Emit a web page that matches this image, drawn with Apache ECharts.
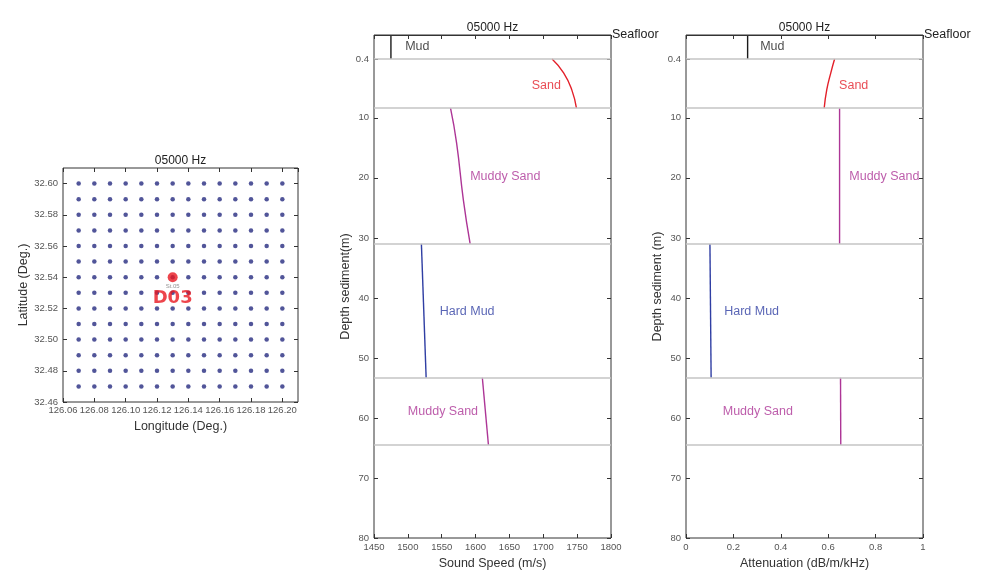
<!DOCTYPE html>
<html>
<head>
<meta charset="utf-8">
<title>05000 Hz</title>
<script src="https://cdn.jsdelivr.net/npm/echarts@6/dist/echarts.min.js"></script>
<style>
  html, body { margin: 0; padding: 0; background: #fff; }
  #main { width: 981px; height: 579px; }
</style>
</head>
<body>
<div id="main"></div>
<script>
// station grid (deg)
var gridLons = [126.07, 126.08, 126.09, 126.10, 126.11, 126.12, 126.13,
                126.14, 126.15, 126.16, 126.17, 126.18, 126.19, 126.20];
var gridLats = [32.47, 32.48, 32.49, 32.50, 32.51, 32.52, 32.53,
                32.54, 32.55, 32.56, 32.57, 32.58, 32.59, 32.60];
var station = [126.13, 32.54];
var stationName = 'D03';
var stationTag = 'St.05';

// depth axis (m), the top mud layer is stretched as in the figure
var seafloorDepth = -3.8;
var layerBottoms = [0.2, 8.4, 31.0, 53.3, 64.5];
var depthTickValues = [0.2, 10, 20, 30, 40, 50, 60, 70, 80];
var depthTickLabels = ['0.4', '10', '20', '30', '40', '50', '60', '70', '80'];

var layerNames = ['Mud', 'Sand', 'Muddy Sand', 'Hard Mud', 'Muddy Sand'];
var layerColors = ['#1a1a1a', '#e3202a', '#ad3596', '#2f3ea3', '#ad3596'];

var layerDepths = [
  [-3.8, 0.2],
  [0.2, 2.5, 5.3, 8.4],
  [8.4, 14.2, 23.7, 31.0],
  [31.0, 53.3],
  [53.3, 64.5]
];
var soundSpeed = [
  [1475, 1475],
  [1713, 1730, 1742, 1749],
  [1563, 1572, 1582, 1592],
  [1520, 1527],
  [1610, 1619]
];
var attenuation = [
  [0.26, 0.26],
  [0.627, 0.611, 0.594, 0.583],
  [0.648, 0.648, 0.648, 0.648],
  [0.101, 0.106],
  [0.652, 0.653]
];

// where the layer names sit (left edge, middle of text)
var labelAtSpeed = [[1496, -1.8], [1683, 4.7], [1592, 19.8], [1547, 42.2], [1500, 59]];
var labelAtAtten = [[0.313, -1.8], [0.646, 4.7], [0.689, 19.8], [0.161, 42.2], [0.155, 59]];

var FONT = 'Liberation Sans';
// negative length draws the tick into the plot box
var TICK = { show: true, inside: false, length: -4, lineStyle: { color: '#333' } };
var NOLINE = { show: false, onZero: false };

function plain(v) { return String(+v.toFixed(6)); }

function depthLabel(v) {
  for (var i = 0; i < depthTickValues.length; i++) {
    if (Math.abs(depthTickValues[i] - v) < 1e-6) return depthTickLabels[i];
  }
  return '';
}

function depthAxes(gridIndex, title, nameGap) {
  return [
    {
      type: 'value', gridIndex: gridIndex, position: 'left', inverse: true,
      min: seafloorDepth, max: 80,
      name: title, nameLocation: 'middle', nameGap: nameGap,
      nameTextStyle: { fontSize: 12.5, color: '#333', fontFamily: FONT },
      axisLine: NOLINE, splitLine: { show: false },
      axisTick: Object.assign({ customValues: depthTickValues }, TICK),
      axisLabel: { customValues: depthTickValues, formatter: depthLabel, margin: 5,
                   fontSize: 9.5, color: '#555', fontFamily: FONT }
    },
    {
      type: 'value', gridIndex: gridIndex, position: 'right', inverse: true,
      min: seafloorDepth, max: 80,
      axisLine: NOLINE, splitLine: { show: false },
      axisTick: Object.assign({ customValues: depthTickValues }, TICK),
      axisLabel: { show: false }
    }
  ];
}

function valueAxes(gridIndex, min, max, interval, name, title, fmt, nameGap, margin, showMax) {
  return [
    {
      type: 'value', gridIndex: gridIndex, position: 'bottom',
      min: min, max: max, interval: interval,
      name: name, nameLocation: 'middle', nameGap: nameGap,
      nameTextStyle: { fontSize: 12.5, color: '#333', fontFamily: FONT },
      axisLine: NOLINE, splitLine: { show: false },
      axisTick: TICK,
      axisLabel: { margin: margin, fontSize: 9.5, color: '#555', fontFamily: FONT,
                   formatter: fmt, showMaxLabel: showMax }
    },
    {
      type: 'value', gridIndex: gridIndex, position: 'top',
      min: min, max: max, interval: interval,
      name: title, nameLocation: 'middle', nameGap: 1,
      nameTextStyle: { fontSize: 12, color: '#222', fontFamily: FONT },
      axisLine: NOLINE, splitLine: { show: false },
      axisTick: TICK, axisLabel: { show: false }
    }
  ];
}

function profileSeries(values, xIdx, yIdx, labelAt) {
  var out = [];
  for (var i = 0; i < layerNames.length; i++) {
    var pts = layerDepths[i].map(function (d, j) { return [values[i][j], d]; });
    var s = {
      type: 'line', xAxisIndex: xIdx, yAxisIndex: yIdx,
      data: pts, showSymbol: false, smooth: 0.5, silent: true,
      lineStyle: { color: layerColors[i], width: 1.4 }
    };
    if (i === 0) {
      var lines = [{
        yAxis: seafloorDepth,
        lineStyle: { color: '#333', width: 1, type: 'solid' },
        label: { show: true, position: 'end', distance: 1, formatter: 'Seafloor',
                 fontSize: 12.5, color: '#222', fontFamily: FONT }
      }];
      layerBottoms.forEach(function (b) {
        lines.push({ yAxis: b, label: { show: false } });
      });
      s.markLine = {
        silent: true, symbol: ['none', 'none'], animation: false,
        lineStyle: { color: '#c4c4c4', width: 1.5, type: 'solid' },
        data: lines
      };
    }
    out.push(s);
  }
  out.push({
    type: 'scatter', xAxisIndex: xIdx, yAxisIndex: yIdx, symbolSize: 0, silent: true,
    data: labelAt.map(function (p, i) {
      return {
        value: p, name: layerNames[i],
        label: { color: layerColors[i] }
      };
    }),
    label: { show: true, position: 'right', distance: 0, formatter: '{b}',
             fontSize: 12.5, fontFamily: FONT }
  });
  return out;
}

var gridDots = [];
gridLats.forEach(function (lat) {
  gridLons.forEach(function (lon) { gridDots.push([lon, lat]); });
});

var xAxes = []
  .concat(valueAxes(0, 126.06, 126.21, 0.02, 'Longitude (Deg.)', '05000 Hz',
                    function (v) { return v.toFixed(2); }, 18, 3, false))
  .concat(valueAxes(1, 1450, 1800, 50, 'Sound Speed (m/s)', '05000 Hz', plain, 17, 4, true))
  .concat(valueAxes(2, 0, 1, 0.2, 'Attenuation (dB/m/kHz)', '05000 Hz', plain, 17, 4, true));

var yAxes = [
  {
    type: 'value', gridIndex: 0, position: 'left', min: 32.46, max: 32.61, interval: 0.02,
    name: 'Latitude (Deg.)', nameLocation: 'middle', nameGap: 23,
    nameTextStyle: { fontSize: 12.5, color: '#333', fontFamily: FONT },
    axisLine: NOLINE, splitLine: { show: false }, axisTick: TICK,
    axisLabel: { margin: 5, fontSize: 9.5, color: '#555', fontFamily: FONT, showMaxLabel: false,
                 formatter: function (v) { return v.toFixed(2); } }
  },
  {
    type: 'value', gridIndex: 0, position: 'right', min: 32.46, max: 32.61, interval: 0.02,
    axisLine: NOLINE, splitLine: { show: false }, axisTick: TICK,
    axisLabel: { show: false }
  }
].concat(depthAxes(1, 'Depth sediment(m)', 16)).concat(depthAxes(2, 'Depth sediment (m)', 17));

var series = [
  {
    type: 'scatter', xAxisIndex: 0, yAxisIndex: 0, data: gridDots,
    symbolSize: 4.5, itemStyle: { color: '#252a80' }, silent: true
  },
  {
    type: 'scatter', xAxisIndex: 0, yAxisIndex: 0, data: [station],
    symbolSize: 10, itemStyle: { color: '#e8161f' }, silent: true, z: 5,
    label: {
      show: true, position: 'bottom', distance: 1,
      formatter: '{s|' + stationTag + '}\n{d|' + stationName + '}',
      rich: {
        s: { fontSize: 6, color: '#777', fontFamily: FONT, lineHeight: 6 },
        d: { fontSize: 18, fontWeight: 'bold', color: '#e8161f', fontFamily: 'DejaVu Sans', lineHeight: 18 }
      }
    }
  }
].concat(profileSeries(soundSpeed, 2, 2, labelAtSpeed))
 .concat(profileSeries(attenuation, 4, 4, labelAtAtten));

var chart = echarts.init(document.getElementById('main'));
chart.setOption({
  animation: false,
  backgroundColor: '#fff',
  textStyle: { fontFamily: FONT },
  grid: [
    { left: 63, top: 168, width: 235, height: 234, show: true, borderColor: '#333', borderWidth: 1, outerBoundsMode: 'none' },
    { left: 374, top: 35, width: 237, height: 503, show: true, borderColor: '#333', borderWidth: 1, outerBoundsMode: 'none' },
    { left: 686, top: 35, width: 237, height: 503, show: true, borderColor: '#333', borderWidth: 1, outerBoundsMode: 'none' }
  ],
  xAxis: xAxes,
  yAxis: yAxes,
  series: series
});
</script>
</body>
</html>
